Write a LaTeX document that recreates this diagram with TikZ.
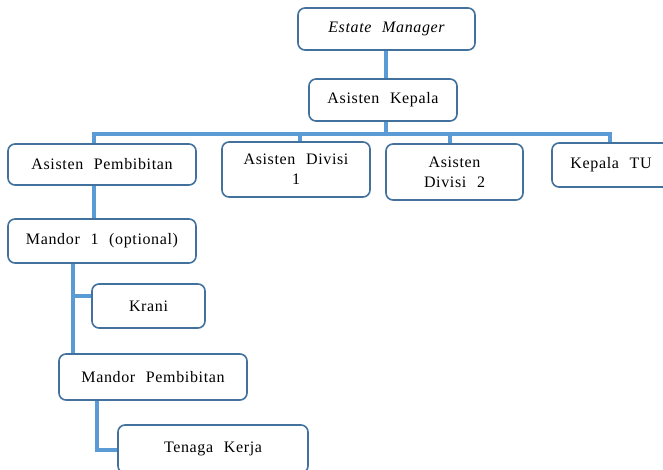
\documentclass[tikz,border=0pt]{standalone}
\usepackage{fontspec}
\setmainfont{Liberation Serif}[LetterSpace=4, WordSpace=2.3]
\usetikzlibrary{backgrounds}
\definecolor{boxc}{HTML}{41719C}
\definecolor{linec}{HTML}{5B9BD5}
\tikzset{
  box/.style={draw=boxc, line width=1.6pt, rounded corners=7pt, fill=white,
    align=center, inner sep=2pt, font=\fontsize{16}{20}\selectfont},
  conn/.style={draw=linec, line width=3.5pt}
}
\begin{document}
\begin{tikzpicture}[x=1pt,y=-1pt]
\clip (0,0) rectangle (663,470);
\useasboundingbox (0,0) rectangle (663,470);
\node[box, minimum width=177pt, minimum height=42pt] (EM) at (386.5,29) {\itshape Estate Manager};
\node[box, minimum width=148pt, minimum height=42pt] (AK) at (383,100) {Asisten Kepala};
\node[box, minimum width=188pt, minimum height=41pt] (AP) at (102,164.5) {Asisten Pembibitan};
\node[box, minimum width=148pt, minimum height=55pt] (AD1) at (296,169.5) {Asisten Divisi\\1};
\node[box, minimum width=137pt, minimum height=56pt] (AD2) at (454.5,172) {Asisten\\Divisi 2};
\node[box, minimum width=118pt, minimum height=44pt] (KTU) at (611,165) {Kepala TU};
\node[box, minimum width=188pt, minimum height=44pt] (M1) at (102,241) {Mandor 1 (optional)};
\node[box, minimum width=113pt, minimum height=44pt] (KR) at (148.5,306) {Krani};
\node[box, minimum width=188pt, minimum height=46pt] (MP) at (153,377) {Mandor Pembibitan};
\node[box, minimum width=190pt, minimum height=48pt] (TK) at (213,449) {Tenaga Kerja};
\coordinate (top) at (386,0);
\coordinate (bL) at (94,134);
\coordinate (bM) at (386,134);
\coordinate (b2) at (300,134);
\coordinate (b3) at (450,134);
\coordinate (bR) at (610,134);
\coordinate (v1) at (73,0);
\coordinate (kr) at (73,296);
\coordinate (v2) at (97,450);
\begin{scope}[on background layer]
\draw[conn] (top |- EM.south) -- (top |- AK.north);
\draw[conn] (bM |- AK.south) -- (bM);
\draw[conn] (bL |- AP.north) -- (bL) -- (bR) -- (bR |- KTU.north);
\draw[conn] (b2) -- (b2 |- AD1.north);
\draw[conn] (b3) -- (b3 |- AD2.north);
\draw[conn] (bL |- AP.south) -- (bL |- M1.north);
\draw[conn] (v1 |- M1.south) -- (v1 |- MP.north);
\draw[conn] (kr) -- (kr -| KR.west);
\draw[conn] (v2 |- MP.south) -- (v2) -- (v2 -| TK.west);
\end{scope}
\end{tikzpicture}
\end{document}
